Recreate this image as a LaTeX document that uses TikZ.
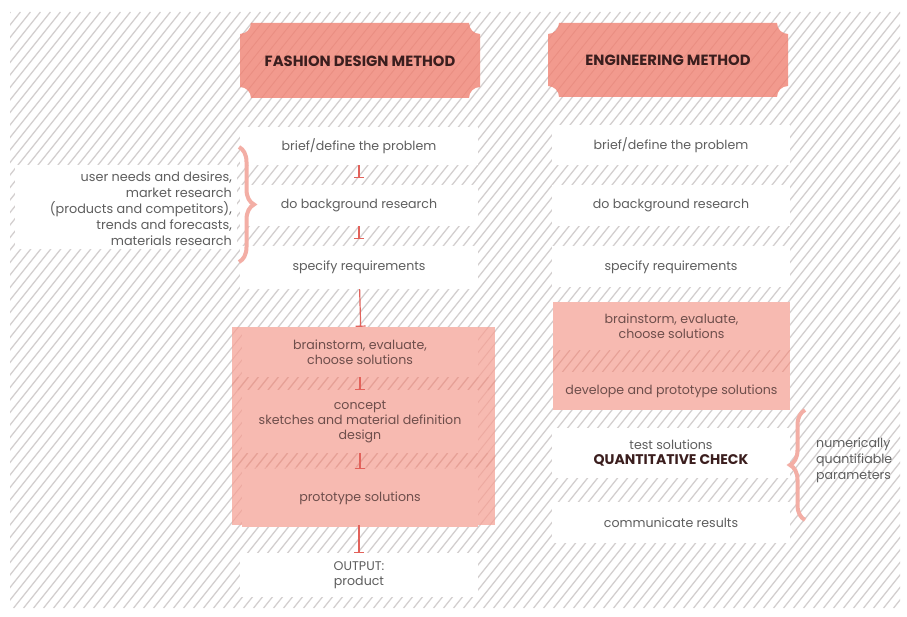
\documentclass[tikz,border=0pt]{standalone}
\usepackage{fontspec}
\setmainfont{Poppins}
\usetikzlibrary{arrows.meta,decorations.pathreplacing}
\definecolor{hatchgray}{HTML}{D3CFCF}
\definecolor{bannerpink}{HTML}{F29A8E}
\definecolor{bannerhatch}{HTML}{EA8E82}
\definecolor{boxpink}{HTML}{F7BAB1}
\definecolor{bandhatch}{HTML}{E6A096}
\definecolor{teecol}{HTML}{E2625B}
\definecolor{bracecol}{HTML}{F3AEA5}
\definecolor{txt}{HTML}{5E5E5E}
\definecolor{pinktxt}{HTML}{6E4E4B}
\definecolor{titletxt}{HTML}{3B1E1E}
\newcommand\hatchrect[6]{% x1 y1 x2 y2 color width
  \begin{scope}
    \clip (#1,#2) rectangle (#3,#4);
    \pgfmathtruncatemacro\hcA{floor((#1+0.8*#2)/10)*10}
    \pgfmathtruncatemacro\hcC{\hcA+10}
    \pgfmathtruncatemacro\hcB{#3+0.8*#4+10}
    \foreach \c in {\hcA,\hcC,...,\hcB}
      \draw[#5,line width=#6] ({\c-0.8*(#4)},#4) -- ({\c-0.8*(#2)},#2);
  \end{scope}}
\newcommand\banner[5]{% x1 y1 x2 y2 r
  (#1+#5,#2) -- (#3-#5,#2) arc[start angle=180,end angle=90,radius=#5]
  -- (#3,#4-#5) arc[start angle=270,end angle=180,radius=#5]
  -- (#1+#5,#4) arc[start angle=0,end angle=-90,radius=#5]
  -- (#1,#2+#5) arc[start angle=90,end angle=0,radius=#5] -- cycle}
\tikzset{
  every node/.style={font=\fontsize{12.6}{15}\selectfont, text=txt, inner sep=0pt},
  wbox/.style={fill=white, minimum width=238, align=center},
  pitem/.style={fill=boxpink, minimum width=236, align=center, text=pinktxt},
  pbig/.style={fill=boxpink},
  title/.style={font=\fontsize{14.8}{17}\selectfont\bfseries, text=titletxt},
  tee/.style={draw=teecol, line width=1.2, -{Bar[width=10pt,line width=1.2pt]}},
  curly/.style={draw=bracecol, line width=4, decorate, decoration={brace, amplitude=15pt}},
}
\begin{document}
\begin{tikzpicture}[x=1pt,y=-1pt]
\useasboundingbox (0,0) rectangle (907,617);
\fill[white] (0,0) rectangle (907,617);
% background hatching
\hatchrect{10}{12}{900}{608}{hatchgray}{1.3}
% banners
\fill[bannerpink] \banner{240}{23}{480}{98}{11};
\begin{scope}
  \clip \banner{240}{23}{480}{98}{11};
  \hatchrect{240}{23}{480}{98}{bannerhatch}{0.9}
\end{scope}
\node[title] (t1) at (360,61) {FASHION DESIGN METHOD};
\fill[bannerpink] \banner{548}{23}{788}{97}{11};
\begin{scope}
  \clip \banner{548}{23}{788}{97}{11};
  \hatchrect{548}{23}{788}{97}{bannerhatch}{0.9}
\end{scope}
\node[title] (t2) at (668,60) {ENGINEERING METHOD};

% left column
\node[wbox, minimum height=38] (lbrief) at (359,146) {brief/define the problem};
\node[wbox, minimum height=41] (lbg) at (359,205.5) {do background research};
\node[wbox, minimum height=43] (lspec) at (359,267.5) {specify requirements};
\node[pbig, minimum width=263, minimum height=198] (lpink) at (363.5,426) {};
\hatchrect{232}{327}{495}{525}{bandhatch!60!boxpink}{1.0}
\hatchrect{232}{377}{495}{390}{bandhatch}{1.1}
\hatchrect{232}{453}{495}{467}{bandhatch}{1.1}
\node[pitem, minimum height=50] (lbrain) at (360,352) {brainstorm, evaluate,\\choose solutions};
\node[pitem, minimum height=63] (lconcept) at (360,421.5) {concept\\sketches and material definition\\design};
\node[pitem, minimum height=58] (lproto) at (360,498) {prototype solutions};
\node[wbox, minimum height=44] (lout) at (359,575) {OUTPUT:\\product};

% left note
\node[fill=white, minimum width=222, minimum height=84] (notebox) at (126,207) {};
\node[anchor=east, align=right, font=\fontsize{12.8}{16}\selectfont] (note) at (232,209)
  {user needs and desires,\\market research\\(products and competitors),\\trends and forecasts,\\materials research};
\draw[curly] (239,147) -- (239,262);

% left connectors
\draw[tee, shorten >=7pt] (lbrief) -- (lbg);
\draw[tee, shorten >=7pt] (lbg) -- (lspec);
\draw[tee] (lspec) -- (lpink);
\draw[tee] (lbrain) -- (lconcept);
\draw[tee] (lconcept) -- (lproto);
\draw[tee] (lpink.south -| lout) -- (lout);

% right column
\node[wbox, minimum height=40] (rbrief) at (671,145) {brief/define the problem};
\node[wbox, minimum height=41] (rbg) at (671,205.5) {do background research};
\node[wbox, minimum height=41] (rspec) at (671,267) {specify requirements};
\node[pbig, minimum width=237, minimum height=108] (rpink) at (671.5,356) {};
\hatchrect{553}{350}{790}{372}{bandhatch}{1.1}
\node[pitem, minimum width=237, minimum height=48] (rbrain) at (671.5,326) {brainstorm, evaluate,\\choose solutions};
\node[pitem, minimum width=237, minimum height=38] (rdev) at (671.5,391) {develope and prototype solutions};
\node[wbox, minimum height=50] (rtest) at (671,453) {test solutions\\{\fontsize{14}{16}\selectfont\bfseries\color{titletxt}QUANTITATIVE CHECK}};
\node[wbox, minimum height=41] (rcomm) at (671,522.5) {communicate results};
\draw[curly] (805,520) -- (805,410);
\node[anchor=west, align=left, font=\fontsize{12.6}{16}\selectfont] (rnote) at (816,460)
  {numerically\\quantifiable\\parameters};
\end{tikzpicture}
\end{document}
